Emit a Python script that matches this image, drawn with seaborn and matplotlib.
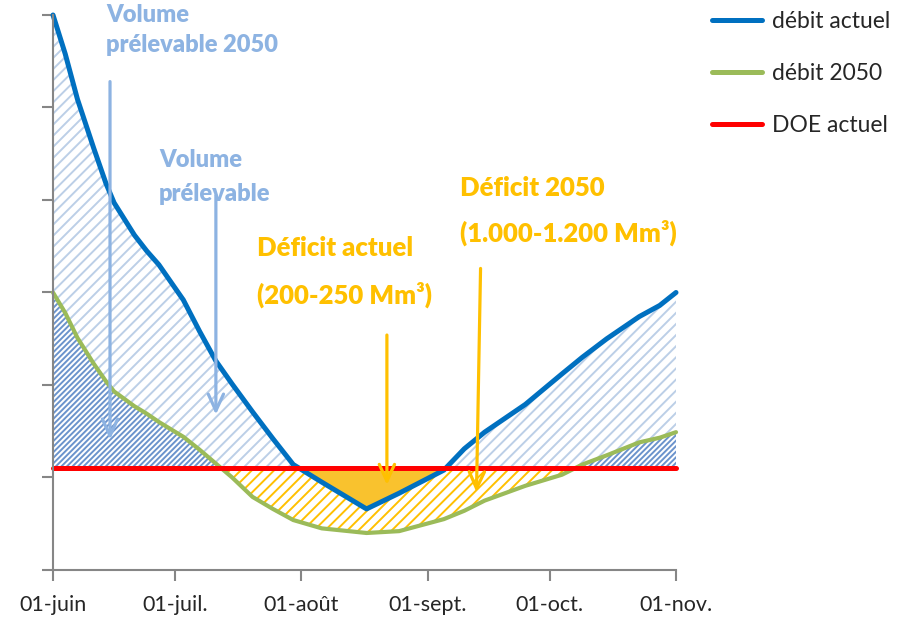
import numpy as np
import pandas as pd
from matplotlib import pyplot as plt
import seaborn as sns

# dates shared by both flow curves
dates = ["2021-06-01", "2021-06-04", "2021-06-07", "2021-06-11", "2021-06-14",
         "2021-06-16", "2021-06-21", "2021-06-24", "2021-06-27", "2021-07-03",
         "2021-07-07", "2021-07-11", "2021-07-15", "2021-07-20", "2021-07-25",
         "2021-07-30", "2021-08-06", "2021-08-17", "2021-08-25", "2021-09-05",
         "2021-09-10", "2021-09-15", "2021-09-20", "2021-09-25", "2021-10-04",
         "2021-10-09", "2021-10-15", "2021-10-23", "2021-10-28", "2021-11-01"]
debit_actuel = [6.00, 5.58, 5.09, 4.56, 4.18, 3.97, 3.62, 3.45, 3.30, 2.92,
                2.58, 2.26, 2.01, 1.71, 1.42, 1.14, 0.95, 0.66, 0.83, 1.08,
                1.31, 1.49, 1.64, 1.79, 2.12, 2.30, 2.50, 2.74, 2.86, 3.00]
debit_2050 = [3.00, 2.78, 2.51, 2.23, 2.04, 1.93, 1.77, 1.69, 1.60, 1.44,
              1.30, 1.15, 1.00, 0.79, 0.66, 0.54, 0.45, 0.40, 0.42, 0.55,
              0.64, 0.75, 0.83, 0.91, 1.03, 1.14, 1.24, 1.38, 1.43, 1.49]
doe_actuel = 1.10

tick_dates = ["2021-06-01", "2021-07-01", "2021-08-01", "2021-09-01", "2021-10-01", "2021-11-01"]
tick_labels = ["01-juin", "01-juil.", "01-août", "01-sept.", "01-oct.", "01-nov."]

BLUE = "#0070c0"
GREEN = "#9bbb59"
RED = "#ff0000"
ORANGE = "#ffc000"
LIGHT = "#8db3e2"


def main():
    sns.set_style("white")
    plt.rcParams['font.family'] = ['Lato', 'DejaVu Sans']
    plt.rcParams['hatch.linewidth'] = 1.4

    df = pd.DataFrame({"date": pd.to_datetime(dates),
                       "actuel": debit_actuel,
                       "futur": debit_2050})
    x = df["date"].values
    a = df["actuel"].values
    f = df["futur"].values
    doe = np.full(len(x), doe_actuel)

    fig = plt.figure(figsize=(9.17, 6.17), dpi=100)
    ax = fig.add_axes([0.0578, 0.0762, 0.6794, 0.8995])

    ## hatched areas
    upper = np.maximum(f, doe)
    ax.fill_between(x, a, upper, where=a >= upper, interpolate=True,
                    facecolor="white", edgecolor="#bccfe7", hatch="///", linewidth=0)
    ax.fill_between(x, f, doe, where=f >= doe, interpolate=True,
                    facecolor="white", edgecolor="#6b93cc", hatch="//////", linewidth=0)
    ax.fill_between(x, np.minimum(a, doe), f, where=f <= doe, interpolate=True,
                    facecolor="white", edgecolor=ORANGE, hatch="///", linewidth=0)
    ax.fill_between(x, a, doe, where=a <= doe, interpolate=True,
                    facecolor="#f9c22e", edgecolor="none", linewidth=0)

    ## lines
    sns.lineplot(data=df, x="date", y="actuel", ax=ax, color=BLUE, linewidth=3.6,
                 label="débit actuel", clip_on=False, solid_capstyle="round",
                 solid_joinstyle="round")
    sns.lineplot(data=df, x="date", y="futur", ax=ax, color=GREEN, linewidth=3.0,
                 label="débit 2050", clip_on=False, solid_capstyle="round",
                 solid_joinstyle="round")
    ax.axhline(doe_actuel, color=RED, linewidth=3.6, label="DOE actuel",
               solid_capstyle="round", clip_on=False)

    ## arrows
    def arrow(x0, y0, x1, y1, color):
        ax.annotate("", xy=(pd.Timestamp(x1), y1), xytext=(pd.Timestamp(x0), y0),
                    arrowprops=dict(arrowstyle="->,head_length=1.2,head_width=0.55",
                                    color=color, lw=2.3, shrinkA=0, shrinkB=0))

    arrow("2021-06-15", 5.28, "2021-06-15", 1.41, LIGHT)
    arrow("2021-07-11", 4.05, "2021-07-11", 1.68, LIGHT)
    arrow("2021-08-22", 2.54, "2021-08-22", 0.92, ORANGE)
    arrow("2021-09-14", 3.26, "2021-09-13", 0.84, ORANGE)

    ## annotation texts
    bkw = dict(fontsize=17, fontweight="heavy", va="center", ha="left", color=LIGHT)
    okw = dict(fontsize=18.5, fontweight="heavy", va="center", ha="left", color=ORANGE)
    ax.text(pd.Timestamp("2021-06-14"), 6.00, "Volume", **bkw)
    ax.text(pd.Timestamp("2021-06-14"), 5.68, "prélevable 2050", **bkw)
    ax.text(pd.Timestamp("2021-06-27"), 4.43, "Volume", **bkw)
    ax.text(pd.Timestamp("2021-06-27"), 4.06, "prélevable", **bkw)
    ax.text(pd.Timestamp("2021-07-21"), 3.48, "Déficit actuel", **okw)
    ax.text(pd.Timestamp("2021-07-21"), 2.97, "(200-250 Mm³)", **okw)
    ax.text(pd.Timestamp("2021-09-09"), 4.13, "Déficit 2050", **okw)
    ax.text(pd.Timestamp("2021-09-09"), 3.65, "(1.000-1.200 Mm³)", **okw)

    ## axes
    ax.set_xlim(pd.Timestamp(tick_dates[0]), pd.Timestamp(tick_dates[-1]))
    ax.set_ylim(0, 6)
    ax.set_xticks(pd.to_datetime(tick_dates))
    ax.set_xticklabels(tick_labels, fontsize=15.5)
    ax.set_yticks(range(7))
    ax.set_yticklabels([])
    ax.set_xlabel("")
    ax.set_ylabel("")
    ax.tick_params(axis="both", direction="out", length=8, width=1.5, color="#868686",
                   bottom=True, left=True)
    ax.tick_params(axis="x", pad=10)
    for side in ["top", "right"]:
        ax.spines[side].set_visible(False)
    for side in ["left", "bottom"]:
        ax.spines[side].set_color("#868686")
        ax.spines[side].set_linewidth(1.5)

    leg = ax.legend(loc="upper left", bbox_to_anchor=(0.776, 0.982),
                    bbox_transform=fig.transFigure, frameon=False, fontsize=16.5,
                    handlelength=2.2, handletextpad=0.45, labelspacing=1.35,
                    borderpad=0, borderaxespad=0)
    for line in leg.get_lines():
        line.set_linewidth(3.6)

    plt.savefig("out.png", dpi=100)


if __name__ == "__main__":
    main()
